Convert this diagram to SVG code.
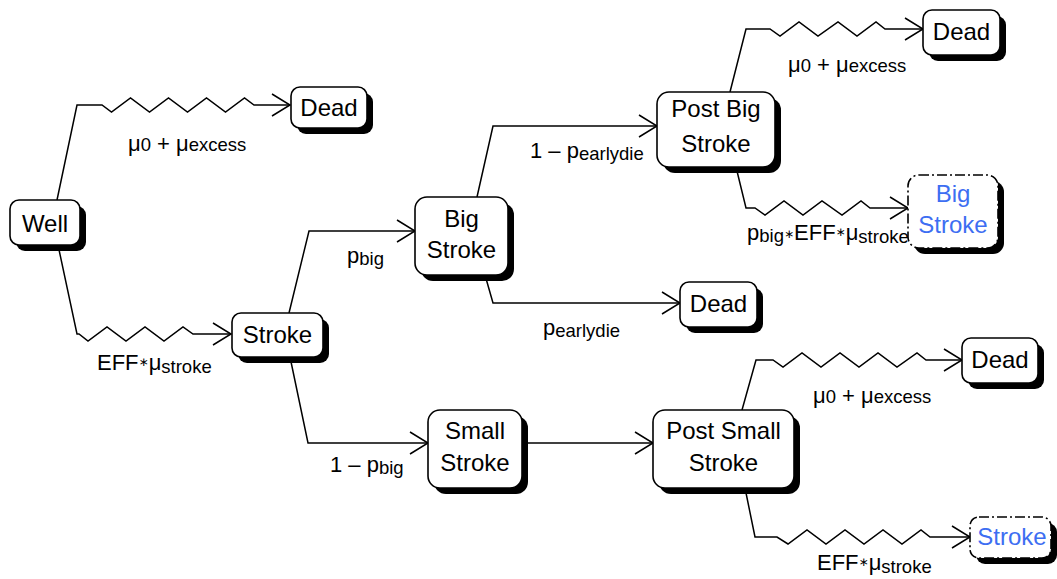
<svg xmlns="http://www.w3.org/2000/svg" width="1057" height="579" viewBox="0 0 1057 579">
<style>
  .bg { fill: #ffffff; }
  .shadow { fill: #000000; stroke: none; }
  .box { fill: #ffffff; stroke: #000000; stroke-width: 1.6; }
  .ref { fill: #ffffff; stroke: #000000; stroke-width: 1.6; stroke-dasharray: 10 3 2 3; }
  .nt { font-family: "Liberation Sans", Arial, sans-serif; font-size: 24px; fill: #000000; text-anchor: middle; }
  .rt { font-family: "Liberation Sans", Arial, sans-serif; font-size: 24px; fill: #3d6ef2; text-anchor: middle; }
  .lbl { font-family: "Liberation Sans", Arial, "DejaVu Sans", sans-serif; font-size: 22px; fill: #000000; }
  .sub { font-size: 18.5px; }
  .ast { font-family: "DejaVu Sans", sans-serif; font-size: 12px; }
  .edge { fill: none; stroke: #000000; stroke-width: 1.5; stroke-linejoin: miter; marker-end: url(#arr); }
</style>
<defs>
  <marker id="arr" markerUnits="userSpaceOnUse" viewBox="-20 -13 22 26" refX="0" refY="0" markerWidth="22" markerHeight="26" orient="auto">
    <path d="M-18,-11 L0,0 L-18,11" fill="none" stroke="#000000" stroke-width="1.5"/>
  </marker>
</defs>
<rect class="bg" x="0" y="0" width="1057" height="579"/>

<g id="connectors">
  <path class="edge" d="M57,200 L77,105 L102,105 L111.5,112 L130.5,98 L149.5,112 L168.5,98 L187.5,112 L206.5,98 L225.5,112 L244.5,98 L254,105 L290,105"/>
  <path class="edge" d="M58,245 L77,334 L79,334 L88,341 L107,327 L126,341 L145,327 L164,341 L183,327 L193,334 L231,334"/>
  <path class="edge" d="M289,313 L309,231 L415,231"/>
  <path class="edge" d="M290,357 L308,443 L428,443"/>
  <path class="edge" d="M477,197 L493,126 L657,126"/>
  <path class="edge" d="M485,275 L493,303 L680,303"/>
  <path class="edge" d="M730,92 L746,29 L770,29 L780,36 L799,22 L818,36 L838,22 L857,36 L876,22 L885,29 L923,29"/>
  <path class="edge" d="M736,167 L746,208 L755,208 L765,215 L784,201 L803,215 L822,201 L842,215 L861,201 L870,208 L908,208"/>
  <path class="edge" d="M522,443 L653,443"/>
  <path class="edge" d="M742,410 L756,360 L773,360 L783,367 L802,353 L821,367 L840,353 L859,367 L878,353 L897,367 L917,353 L926,360 L962,360"/>
  <path class="edge" d="M745,488 L755,537 L777,537 L788,544 L807,530 L826,544 L845,530 L864,544 L883,530 L902,544 L921,530 L930,537 L970,537"/>

  <text class="lbl" x="128" y="151">μ<tspan class="sub">0</tspan> + μ<tspan class="sub">excess</tspan></text>
  <text class="lbl" x="97" y="370">EFF<tspan class="ast" dy="-4">∗</tspan><tspan dy="4">μ</tspan><tspan class="sub" dy="3">stroke</tspan></text>
  <text class="lbl" x="347" y="263">p<tspan class="sub" dy="2">big</tspan></text>
  <text class="lbl" x="330" y="472">1 – p<tspan class="sub" dy="2">big</tspan></text>
  <text class="lbl" x="530" y="158">1 – p<tspan class="sub" dy="2">earlydie</tspan></text>
  <text class="lbl" x="543" y="335">p<tspan class="sub" dy="2">earlydie</tspan></text>
  <text class="lbl" x="788" y="72">μ<tspan class="sub">0</tspan> + μ<tspan class="sub">excess</tspan></text>
  <text class="lbl" x="747" y="240">p<tspan class="sub" dy="2">big</tspan><tspan class="ast" dy="-4">∗</tspan><tspan dy="2">EFF</tspan><tspan class="ast" dy="-4">∗</tspan><tspan dy="4">μ</tspan><tspan class="sub" dy="3">stroke</tspan></text>
  <text class="lbl" x="813" y="403">μ<tspan class="sub">0</tspan> + μ<tspan class="sub">excess</tspan></text>
  <text class="lbl" x="817" y="570">EFF<tspan class="ast" dy="-4">∗</tspan><tspan dy="4">μ</tspan><tspan class="sub" dy="3">stroke</tspan></text>
</g>

<g id="well">
  <rect class="shadow" x="16" y="206" width="70" height="45" rx="9"/>
  <rect class="box" x="10" y="200" width="70" height="45" rx="9"/>
  <text class="nt" x="45" y="232">Well</text>
</g>
<g id="dead1">
  <rect class="shadow" x="297" y="93" width="76" height="41" rx="9"/>
  <rect class="box" x="291" y="87" width="76" height="41" rx="9"/>
  <text class="nt" x="329" y="116">Dead</text>
</g>
<g id="stroke">
  <rect class="shadow" x="238" y="319" width="91" height="44" rx="9"/>
  <rect class="box" x="232" y="313" width="91" height="44" rx="9"/>
  <text class="nt" x="277.5" y="343">Stroke</text>
</g>
<g id="big-stroke">
  <rect class="shadow" x="421" y="203" width="93" height="78" rx="12"/>
  <rect class="box" x="415" y="197" width="93" height="78" rx="12"/>
  <text class="nt" x="461.5" y="227">Big</text>
  <text class="nt" x="461.5" y="258">Stroke</text>
</g>
<g id="post-big-stroke">
  <rect class="shadow" x="663" y="98" width="118" height="75" rx="12"/>
  <rect class="box" x="657" y="92" width="118" height="75" rx="12"/>
  <text class="nt" x="716" y="117">Post Big</text>
  <text class="nt" x="716" y="152">Stroke</text>
</g>
<g id="dead-top">
  <rect class="shadow" x="929" y="16" width="77" height="45" rx="9"/>
  <rect class="box" x="923" y="10" width="77" height="45" rx="9"/>
  <text class="nt" x="961.5" y="40">Dead</text>
</g>
<g id="big-stroke-ref">
  <rect class="shadow" x="914" y="181" width="90" height="73" rx="11"/>
  <rect class="ref" x="908" y="175" width="90" height="73" rx="11"/>
  <text class="rt" x="953" y="202">Big</text>
  <text class="rt" x="953" y="233">Stroke</text>
</g>
<g id="dead-mid">
  <rect class="shadow" x="686" y="288" width="77" height="45" rx="9"/>
  <rect class="box" x="680" y="282" width="77" height="45" rx="9"/>
  <text class="nt" x="718.5" y="312">Dead</text>
</g>
<g id="small-stroke">
  <rect class="shadow" x="434" y="416" width="94" height="78" rx="12"/>
  <rect class="box" x="428" y="410" width="94" height="78" rx="12"/>
  <text class="nt" x="475" y="439">Small</text>
  <text class="nt" x="475" y="471">Stroke</text>
</g>
<g id="post-small-stroke">
  <rect class="shadow" x="659" y="416" width="141" height="78" rx="12"/>
  <rect class="box" x="653" y="410" width="141" height="78" rx="12"/>
  <text class="nt" x="723.5" y="439">Post Small</text>
  <text class="nt" x="723.5" y="471">Stroke</text>
</g>
<g id="dead-low">
  <rect class="shadow" x="968" y="344" width="76" height="45" rx="9"/>
  <rect class="box" x="962" y="338" width="76" height="45" rx="9"/>
  <text class="nt" x="1000" y="368">Dead</text>
</g>
<g id="stroke-ref">
  <rect class="shadow" x="976" y="523" width="81" height="41" rx="9"/>
  <rect class="ref" x="970" y="517" width="81" height="41" rx="9"/>
  <text class="rt" x="1012" y="545">Stroke</text>
</g>
</svg>
